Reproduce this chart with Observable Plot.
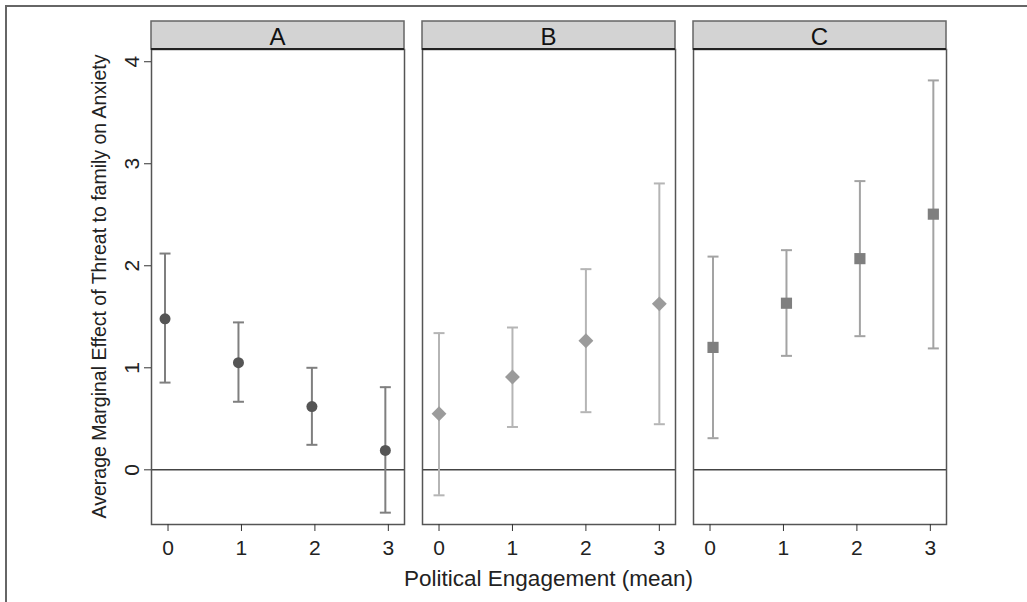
<!DOCTYPE html>
<html>
<head>
<meta charset="utf-8">
<script src="https://cdn.jsdelivr.net/npm/d3@7"></script>
<script src="https://cdn.jsdelivr.net/npm/@observablehq/plot@0.6"></script>
<style>
  html, body { margin: 0; padding: 0; background: #fff; }
  #wrap { position: relative; width: 1027px; height: 602px; overflow: hidden; }
  #border { position: absolute; left: 5px; top: 5px; width: 1100px; height: 700px; border: 2px solid #666; box-sizing: border-box; }
  #chart { position: absolute; left: 0; top: 0; }
</style>
</head>
<body>
<div id="wrap"><div id="border"></div><div id="chart"></div></div>
<script>
const groups = ["A", "B", "C"];
const engagement = [0, 1, 2, 3];
const xTicks = [0, 1, 2, 3];
const yTicks = [0, 1, 2, 3, 4];

const estimateA = [1.48, 1.05, 0.62, 0.19];
const lowerA    = [0.855, 0.667, 0.245, -0.42];
const upperA    = [2.12, 1.445, 1.0, 0.81];

const estimateB = [0.55, 0.91, 1.265, 1.627];
const lowerB    = [-0.25, 0.42, 0.565, 0.447];
const upperB    = [1.34, 1.395, 1.967, 2.807];

const estimateC = [1.2, 1.633, 2.07, 2.506];
const lowerC    = [0.31, 1.117, 1.31, 1.19];
const upperC    = [2.09, 2.153, 2.83, 3.817];

const xLabel = "Political Engagement (mean)";
const yLabel = "Average Marginal Effect of Threat to family on Anxiety";

const series = {
  A: {est: estimateA, low: lowerA, high: upperA},
  B: {est: estimateB, low: lowerB, high: upperB},
  C: {est: estimateC, low: lowerC, high: upperC}
};
const styles = {
  A: {point: "#555555", bar: "#7f7f7f", symbol: "circle", r: 5.5, dx: -3},
  B: {point: "#9b9b9b", bar: "#b5b5b5", symbol: "diamond2", r: 6.7, dx: 0},
  C: {point: "#7f7f7f", bar: "#a3a3a3", symbol: "square", r: 6.3, dx: 3}
};

const rows = groups.flatMap(g => engagement.map((x, i) => ({
  group: g, x, est: series[g].est[i], low: series[g].low[i], high: series[g].high[i]
})));

const capSymbol = {
  draw(context, size) {
    const w = Math.sqrt(size / Math.PI);
    context.moveTo(-w, 0);
    context.lineTo(w, 0);
  }
};

const groupMarks = groups.flatMap(g => {
  const d = rows.filter(r => r.group === g);
  const s = styles[g];
  return [
    Plot.ruleX(d, {x: "x", y1: "low", y2: "high", fx: "group", stroke: s.bar, strokeWidth: 2, dx: s.dx}),
    Plot.dot(d, {x: "x", y: "low", fx: "group", symbol: capSymbol, r: 5.5, stroke: s.bar, strokeWidth: 2, dx: s.dx}),
    Plot.dot(d, {x: "x", y: "high", fx: "group", symbol: capSymbol, r: 5.5, stroke: s.bar, strokeWidth: 2, dx: s.dx}),
    Plot.dot(d, {x: "x", y: "est", fx: "group", symbol: s.symbol, r: s.r, fill: s.point, stroke: "none", dx: s.dx})
  ];
});

const plot = Plot.plot({
  width: 1027,
  height: 602,
  marginTop: 49,
  marginBottom: 78,
  marginLeft: 150,
  marginRight: 79,
  style: {fontFamily: "'Liberation Sans', Arial, sans-serif", fontSize: "21px", color: "#222", background: "transparent"},
  fx: {domain: groups, paddingInner: 0.066, paddingOuter: 0, axis: null, label: null},
  x: {domain: [-0.225, 3.22]},
  y: {domain: [-0.536, 4.12]},
  marks: [
    Plot.ruleY([0], {stroke: "#444", strokeWidth: 1.5}),
    ...groupMarks,
    Plot.frame({stroke: "#555", strokeWidth: 1.5}),
    Plot.axisX({ticks: xTicks, tickSize: 7, tickPadding: 9, fontSize: 21, label: null, stroke: "#333", tickFormat: d => String(d)}),
    Plot.axisY({ticks: yTicks, tickSize: 7, label: null, stroke: "#333", tickFormat: () => ""}),
    Plot.text(yTicks, {y: d => d, fx: () => "A", text: d => String(d), frameAnchor: "left", dx: -19, rotate: -90, fontSize: 21, textAnchor: "middle", lineAnchor: "middle", fill: "#222"})
  ]
});

document.getElementById("chart").appendChild(plot);

// facet header strips and shared axis titles, positioned from the plot's own scales
(function () {
  const svg = d3.select(plot);
  const fx = plot.scale("fx");
  const yScale = plot.scale("y");
  const yTop = yScale.apply(yScale.domain[1]);
  const yBottom = yScale.apply(yScale.domain[0]);
  const stripH = 28;
  for (const g of groups) {
    const x0 = fx.apply(g);
    const bw = fx.bandwidth;
    const gg = svg.append("g");
    gg.append("rect").attr("x", x0).attr("y", yTop - stripH).attr("width", bw).attr("height", stripH)
      .attr("fill", "#d3d3d3").attr("stroke", "#666").attr("stroke-width", 1.5);
    gg.append("line").attr("x1", x0).attr("x2", x0 + bw).attr("y1", yTop).attr("y2", yTop)
      .attr("stroke", "#222").attr("stroke-width", 2.2);
    gg.append("text").attr("x", x0 + bw / 2).attr("y", yTop - stripH / 2 + 1)
      .attr("text-anchor", "middle").attr("dominant-baseline", "central")
      .attr("font-size", 24).attr("fill", "#111").text(g);
  }
  const xLeft = fx.apply(groups[0]);
  const xRight = fx.apply(groups[groups.length - 1]) + fx.bandwidth;
  svg.append("text").attr("x", (xLeft + xRight) / 2).attr("y", yBottom + 62)
    .attr("text-anchor", "middle").attr("font-size", 22.5).attr("fill", "#222").text(xLabel);
  svg.append("text").attr("transform", `translate(${xLeft - 52},${(yTop + yBottom) / 2}) rotate(-90)`)
    .attr("text-anchor", "middle").attr("dominant-baseline", "central")
    .attr("font-size", 19.5).attr("fill", "#222").text(yLabel);
})();
</script>
</body>
</html>
